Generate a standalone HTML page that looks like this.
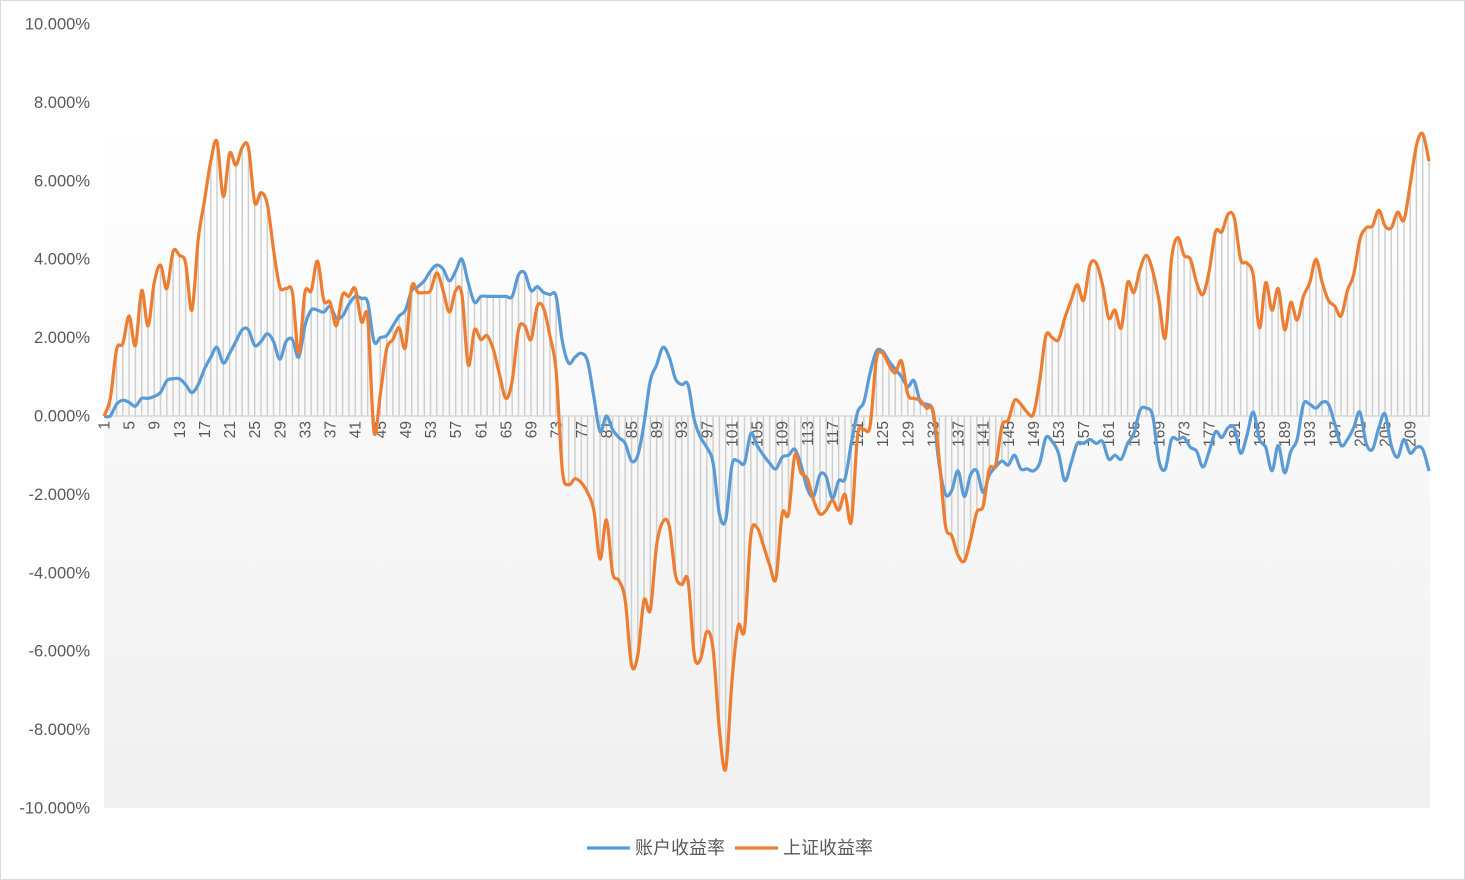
<!DOCTYPE html>
<html><head><meta charset="utf-8"><style>
html,body{margin:0;padding:0;background:#fff;}
svg{display:block;font-family:"Liberation Sans","Noto Sans CJK SC",sans-serif;}
</style></head><body>
<svg id="c" width="1465" height="880" xmlns="http://www.w3.org/2000/svg">
<defs><linearGradient id="g" x1="0" y1="0" x2="0" y2="1">
<stop offset="0" stop-color="#ffffff"/><stop offset="0.12" stop-color="#ffffff"/><stop offset="1" stop-color="#f0f0f0"/></linearGradient></defs>
<rect x="0.5" y="0.5" width="1464" height="879" fill="#fff" stroke="#d9d9d9"/>
<rect x="104" y="24" width="1326" height="784" fill="url(#g)"/>
<g id="drop"></g>
<line x1="104" y1="416" x2="1430" y2="416" stroke="#d9d9d9" stroke-width="1.5"/>
<g id="ylab" font-size="16.5" fill="#595959" text-anchor="end"></g>
<g id="xlab" font-size="15.5" fill="#595959"></g>
<path id="pb" fill="none" stroke="#5b9bd5" stroke-width="3.2" stroke-linejoin="round"/>
<path id="po" fill="none" stroke="#ed7d31" stroke-width="3.2" stroke-linejoin="round"/>
<line x1="587" y1="848" x2="630" y2="848" stroke="#5b9bd5" stroke-width="3.2"/>
<text x="635" y="854" font-size="18" fill="#595959">账户收益率</text>
<line x1="735" y1="848" x2="778" y2="848" stroke="#ed7d31" stroke-width="3.2"/>
<text x="783" y="854" font-size="18" fill="#595959">上证收益率</text>
</svg>
<script>
var O=[0,0.45,1.7,1.85,2.55,1.8,3.2,2.3,3.4,3.85,
3.25,4.2,4.1,3.9,2.7,4.5,5.5,6.5,7.0,5.6,
6.7,6.4,6.85,6.85,5.45,5.7,5.4,4.25,3.3,3.25,
3.15,1.6,3.15,3.2,3.95,2.95,2.9,2.3,3.1,3.05,
3.25,2.4,2.5,-0.4,0.55,1.7,1.95,2.25,1.75,3.3,
3.15,3.15,3.2,3.65,3.2,2.65,3.2,3.1,1.3,2.2,
1.95,2.05,1.7,1.05,0.45,0.9,2.2,2.3,1.95,2.8,
2.75,2.05,1.15,-1.4,-1.75,-1.6,-1.7,-1.95,-2.4,-3.65,
-2.65,-4.0,-4.2,-4.7,-6.35,-6.1,-4.7,-4.95,-3.3,-2.7,
-2.8,-4.05,-4.3,-4.2,-6.1,-6.2,-5.5,-5.95,-8.0,-9.0,
-6.75,-5.35,-5.45,-3.05,-2.85,-3.3,-3.8,-4.15,-2.5,-2.5,
-1.0,-1.45,-1.6,-2.15,-2.5,-2.4,-2.15,-2.4,-2.0,-2.7,
-0.5,-0.35,-0.25,1.45,1.6,1.3,1.1,1.4,0.55,0.45,
0.4,0.2,0.15,-1.1,-2.8,-3.05,-3.55,-3.7,-3.15,-2.45,
-2.3,-1.35,-1.25,-0.25,-0.1,0.4,0.3,0.1,0.05,0.9,
2.05,2.0,1.95,2.5,2.95,3.35,2.95,3.85,3.9,3.35,
2.5,2.7,2.25,3.4,3.15,3.75,4.1,3.7,2.95,2.0,
4.0,4.55,4.1,4.0,3.4,3.1,3.7,4.7,4.7,5.15,
5.05,4.0,3.9,3.6,2.25,3.4,2.7,3.25,2.2,2.9,
2.45,3.05,3.4,4.0,3.4,2.95,2.8,2.55,3.2,3.6,
4.5,4.8,4.85,5.25,4.85,4.8,5.2,5.0,5.9,6.9,
7.2,6.5];
var B=[0,0,0.3,0.4,0.35,0.25,0.45,0.45,0.5,0.6,
0.9,0.95,0.95,0.8,0.6,0.8,1.2,1.5,1.75,1.35,
1.6,1.9,2.2,2.2,1.8,1.9,2.1,1.9,1.45,1.9,
1.95,1.5,2.3,2.7,2.7,2.65,2.8,2.5,2.55,2.85,
3.05,3.0,2.9,1.9,2.0,2.05,2.3,2.55,2.7,3.2,
3.3,3.45,3.7,3.85,3.75,3.45,3.7,4.0,3.4,2.9,
3.05,3.05,3.05,3.05,3.05,3.05,3.6,3.65,3.2,3.3,
3.15,3.1,3.05,1.9,1.35,1.5,1.6,1.4,0.5,-0.4,
0.0,-0.35,-0.55,-0.7,-1.15,-1.0,-0.2,0.9,1.3,1.75,
1.5,0.95,0.8,0.8,-0.1,-0.55,-0.8,-1.2,-2.5,-2.65,
-1.25,-1.15,-1.2,-0.45,-0.75,-1.0,-1.2,-1.35,-1.05,-1.0,
-0.85,-1.25,-1.85,-2.05,-1.5,-1.55,-2.1,-1.65,-1.6,-0.7,
0.1,0.35,1.1,1.65,1.65,1.4,1.2,1.0,0.75,0.9,
0.35,0.3,0.1,-1.25,-2.0,-1.9,-1.4,-2.05,-1.5,-1.4,
-1.95,-1.5,-1.3,-1.15,-1.25,-1.0,-1.35,-1.35,-1.4,-1.2,
-0.55,-0.65,-0.95,-1.65,-1.2,-0.7,-0.7,-0.6,-0.7,-0.65,
-1.1,-1.0,-1.1,-0.7,-0.45,0.15,0.2,0.0,-1.15,-1.35,
-0.6,-0.6,-0.55,-0.8,-0.9,-1.3,-0.9,-0.4,-0.55,-0.3,
-0.3,-0.95,-0.5,0.1,-0.6,-0.8,-1.4,-0.75,-1.45,-0.9,
-0.6,0.3,0.3,0.2,0.35,0.3,-0.2,-0.75,-0.6,-0.3,
0.1,-0.7,-0.85,-0.3,0.05,-0.75,-1.05,-0.6,-0.95,-0.8,
-0.85,-1.4];
var N=212,X0=104,DX=(1429-104)/211;
function px(i){return X0+i*DX;}
function py(v){return 416-v*39.2;}
function path(a){
 var p=a.map(function(v,i){return [px(i),py(v)];});
 var d="M"+p[0][0].toFixed(1)+","+p[0][1].toFixed(1);
 for(var i=0;i<p.length-1;i++){
  var p0=p[i>0?i-1:i],p1=p[i],p2=p[i+1],p3=p[i+2<p.length?i+2:i+1],t=1/6;
  var c1=[p1[0]+(p2[0]-p0[0])*t,p1[1]+(p2[1]-p0[1])*t];
  var c2=[p2[0]-(p3[0]-p1[0])*t,p2[1]-(p3[1]-p1[1])*t];
  d+="C"+c1[0].toFixed(1)+","+c1[1].toFixed(1)+" "+c2[0].toFixed(1)+","+c2[1].toFixed(1)+" "+p2[0].toFixed(1)+","+p2[1].toFixed(1);
 }
 return d;}
document.getElementById("pb").setAttribute("d",path(B));
document.getElementById("po").setAttribute("d",path(O));
var s="";
for(var i=0;i<N;i++){
 var v=O[i];
 if(B[i]*O[i]>0&&Math.abs(B[i])>Math.abs(v))v=B[i];
 s+='<line x1="'+px(i).toFixed(1)+'" y1="416" x2="'+px(i).toFixed(1)+'" y2="'+py(v).toFixed(1)+'" stroke="#cfcfcf" stroke-width="1.5"/>';
}
document.getElementById("drop").innerHTML=s;
s="";
for(var k=0;k<=10;k++){var v=10-2*k;s+='<text x="90" y="'+(29.5+k*78.4).toFixed(1)+'">'+v.toFixed(3)+'%</text>';}
document.getElementById("ylab").innerHTML=s;
s="";
for(var i=0;i<N;i+=4){var x=px(i)+5.5;s+='<text transform="translate('+x.toFixed(1)+',421) rotate(-90)" text-anchor="end">'+(i+1)+'</text>';}
document.getElementById("xlab").innerHTML=s;
</script>
</body></html>
